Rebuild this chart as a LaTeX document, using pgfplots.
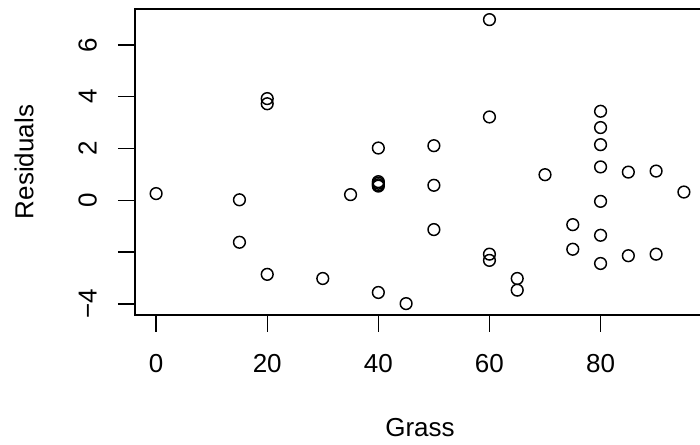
\documentclass[border=0pt]{standalone}
\usepackage{fontspec}
\setmainfont{Liberation Sans}
\usepackage{pgfplots}
\pgfplotsset{compat=1.18}

\begin{document}
\begin{tikzpicture}
% page = 700 x 445 px at 0.75pt per px, axis box corner at (0,0)
\useasboundingbox (-101.25pt,-97.5pt) rectangle (423.75pt,236.25pt);
\begin{axis}[
  scale only axis,
  width=427.5pt, height=229.5pt,
  xmin=-3.8, xmax=98.8,
  ymin=-4.43, ymax=7.39,
  axis line style={line width=1pt},
  tick style={line width=1pt, black},
  tick align=outside,
  major tick length=12.75pt,
  xtick pos=bottom, ytick pos=left,
  xtick={0,20,40,60,80},
  ytick={-4,-2,0,2,4,6},
  yticklabels={−4,,0,2,4,6},
  /pgf/number format/assume math mode=true,
  tick label style={font=\fontsize{19.5}{20}\selectfont},
  xticklabel style={anchor=base, yshift=-30.75pt, inner sep=0pt},
  yticklabel style={xshift=-15.95pt, rotate=90, anchor=base, inner sep=0pt},
  xlabel={Grass},
  ylabel={Residuals},
  every axis x label/.style={at={(rel axis cs:0.5,0)}, yshift=-91.5pt, anchor=base, inner sep=0pt, font=\fontsize{19.5}{20}\selectfont},
  every axis y label/.style={at={(rel axis cs:0,0.5)}, xshift=-76.3pt, rotate=90, anchor=base, inner sep=0pt, font=\fontsize{19.5}{20}\selectfont},
  clip=false,
]
\addplot[only marks, mark=o, mark size=4.4pt, mark options={line width=1.1pt, black}] coordinates {
(0,0.26)
(15,0.02) (15,-1.62)
(20,3.93) (20,3.73) (20,-2.86)
(30,-3.02)
(35,0.22)
(40,2.02) (40,0.72) (40,0.66) (40,0.60) (40,0.55) (40,-3.56)
(45,-3.99)
(50,2.11) (50,0.58) (50,-1.13)
(60,6.98) (60,3.22) (60,-2.08) (60,-2.32)
(65,-3.02) (65,-3.47)
(70,0.99)
(75,-0.94) (75,-1.89)
(80,3.44) (80,2.81) (80,2.15) (80,1.29) (80,-0.04) (80,-1.35) (80,-2.44)
(85,1.09) (85,-2.14)
(90,1.13) (90,-2.08)
(95,0.32)
};
\end{axis}
\end{tikzpicture}
\end{document}
